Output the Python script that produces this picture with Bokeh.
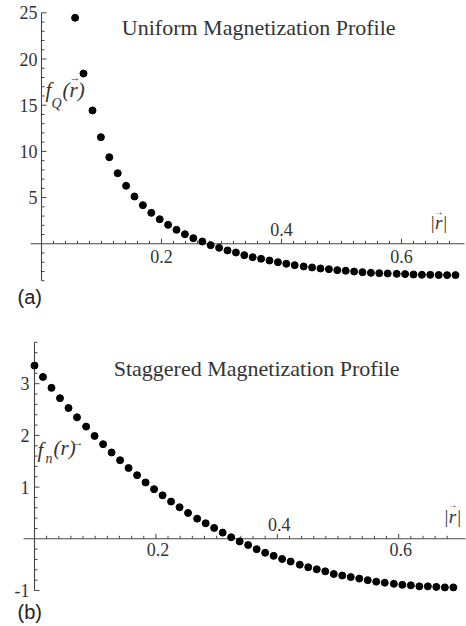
import numpy as np
from bokeh.plotting import figure
from bokeh.layouts import column
from bokeh.models import Label
from bokeh.embed import file_html
from bokeh.resources import INLINE

# ---------------- data ----------------
r_values = [0.000, 0.014, 0.028, 0.042, 0.056, 0.070, 0.085, 0.099, 0.113, 0.127,
            0.141, 0.155, 0.169, 0.183, 0.197, 0.211, 0.225, 0.239, 0.253, 0.268,
            0.282, 0.296, 0.310, 0.324, 0.338, 0.352, 0.366, 0.380, 0.394, 0.408,
            0.422, 0.437, 0.451, 0.465, 0.479, 0.493, 0.507, 0.521, 0.535, 0.549,
            0.563, 0.577, 0.592, 0.606, 0.620, 0.634, 0.648, 0.662, 0.676, 0.690]

uniform_r = r_values[4:]
uniform_f = [24.46, 18.43, 14.43, 11.54, 9.37, 7.64, 6.28, 5.12, 4.18, 3.35,
             2.66, 2.05, 1.51, 1.04, 0.61, 0.25, -0.15, -0.43, -0.72, -0.94,
             -1.23, -1.45, -1.62, -1.81, -1.99, -2.16, -2.31, -2.45, -2.56, -2.67,
             -2.75, -2.85, -2.92, -3.00, -3.07, -3.14, -3.18, -3.21, -3.25, -3.28,
             -3.32, -3.35, -3.36, -3.38, -3.39, -3.39]

staggered_r = r_values
staggered_f = [3.35, 3.13, 2.92, 2.72, 2.53, 2.35, 2.17, 1.99, 1.83, 1.67,
               1.52, 1.37, 1.23, 1.09, 0.96, 0.84, 0.72, 0.61, 0.50, 0.39,
               0.30, 0.21, 0.12, 0.03, -0.05, -0.12, -0.20, -0.27, -0.33, -0.39,
               -0.44, -0.50, -0.55, -0.59, -0.63, -0.68, -0.71, -0.74, -0.77, -0.80,
               -0.83, -0.85, -0.87, -0.89, -0.90, -0.92, -0.92, -0.93, -0.94, -0.94]

top_title = "Uniform Magnetization Profile"
bottom_title = "Staggered Magnetization Profile"
x_major = [0.2, 0.4, 0.6]
x_major_labels = ["0.2", "0.4", "0.6"]
x_label_above = [False, True, False]
top_y_major = [5, 10, 15, 20, 25]
top_y_labels = ["5", "10", "15", "20", "25"]
bottom_y_major = [-1, 1, 2, 3]
bottom_y_labels = ["-1", "1", "2", "3"]

SERIF = "Liberation Serif"
SANS = "Liberation Sans"
TXT = "#333333"
AX = "#444444"
W = 466


def panel(height, ox, oy, sx, sy):
    p = figure(width=W, height=height,
               x_range=(-ox / sx, (W - ox) / sx),
               y_range=((oy - height) / sy, oy / sy),
               output_backend="svg", toolbar_location=None, tools="",
               x_axis_location=None, y_axis_location=None,
               min_border=0, outline_line_color=None)
    p.grid.visible = False
    return p


def lab(p, x, y, text, size, font=SERIF, style="normal", align="left",
        color=TXT, x_offset=0):
    p.add_layout(Label(x=x, y=y, text=text, text_font=font,
                       text_font_size=f"{size}px", text_font_style=style,
                       text_align=align, text_baseline="middle",
                       text_color=color, x_offset=x_offset))


def axes(p, sx, sy, xs, xe, ys, ye, xminor, yminor, ymajor):
    p.segment(x0=[xs], y0=[0], x1=[xe], y1=[0], line_color=AX, line_width=1.1)
    p.segment(x0=[0], y0=[ys], x1=[0], y1=[ye], line_color=AX, line_width=1.1)
    p.segment(x0=xminor, y0=0, x1=xminor, y1=3 / sy, line_color=AX, line_width=1)
    p.segment(x0=x_major, y0=0, x1=x_major, y1=5 / sy, line_color=AX, line_width=1)
    p.segment(x0=0, y0=yminor, x1=3 / sx, y1=yminor, line_color=AX, line_width=1)
    p.segment(x0=0, y0=ymajor, x1=5 / sx, y1=ymajor, line_color=AX, line_width=1)


# ---------------- top panel ----------------
sx1, sy1 = 600.0, 9.24
p1 = panel(310, 41, 243.3, sx1, sy1)
xminor1 = [v for v in np.round(np.arange(0.02, 0.70, 0.02), 2) if v not in x_major]
yminor1 = [v for v in range(-4, 26) if v % 5 != 0]
axes(p1, sx1, sy1, -0.018, 0.705, -4, 25, xminor1, yminor1, top_y_major)

p1.scatter(uniform_r, uniform_f, size=7, color="black")

for v, t in zip(top_y_major, top_y_labels):
    lab(p1, -4 / sx1, v, t, 18, align="right")
for v, t, above in zip(x_major, x_major_labels, x_label_above):
    lab(p1, v, (14.5 if above else -13) / sy1, t, 18, align="center")

lab(p1, 0.362, 23.4, top_title, 22, align="center")
# y label f_Q(r->)
lab(p1, 4 / sx1, 16.6, "f", 21, style="italic")
lab(p1, 10 / sx1, 15.2, "Q", 14, style="italic")
lab(p1, 21 / sx1, 16.6, "(r)", 21, style="italic")
lab(p1, 28 / sx1, 18.0, "\u2192", 11)
# x label |r->|
lab(p1, 0.647, 2.3, "|r|", 19, style="italic")
lab(p1, 0.647 + 4 / sx1, 3.5, "\u2192", 10)
lab(p1, -24 / sx1, -5.8, "(a)", 20, font=SANS, color="#222222")

# ---------------- bottom panel ----------------
sx2, sy2 = 607.0, 51.7
p2 = panel(314, 34, 228.3, sx2, sy2)
xminor2 = xminor1
yminor2 = [v for v in np.round(np.arange(-1, 3.81, 0.2), 1) if abs(v - round(v)) > 1e-6]
axes(p2, sx2, sy2, -0.018, 0.71, -1, 3.8, xminor2, yminor2, bottom_y_major)

p2.scatter(staggered_r, staggered_f, size=7, color="black")

for v, t in zip(bottom_y_major, bottom_y_labels):
    lab(p2, -5 / sx2, v, t, 18, align="right")
for v, t, above in zip(x_major, x_major_labels, x_label_above):
    lab(p2, v, (14.5 if above else -11) / sy2, t, 18, align="center", x_offset=2)

lab(p2, 0.366, 3.30, bottom_title, 22, align="center")
# y label f_n(r)->
lab(p2, 3 / sx2, 1.71, "f", 21, style="italic")
lab(p2, 11 / sx2, 1.55, "n", 14, style="italic")
lab(p2, 19 / sx2, 1.75, "(r)", 21, style="italic")
lab(p2, 38 / sx2, 1.88, "\u2192", 11)
# x label |r->|
lab(p2, 0.674, 0.437, "|r|", 19, style="italic")
lab(p2, 0.674 + 4 / sx2, 0.66, "\u2192", 10)
lab(p2, -17 / sx2, -1.42, "(b)", 20, font=SANS, color="#222222")

layout = column(p1, p2, spacing=0)
open("out.html", "w").write(file_html(layout, INLINE))
